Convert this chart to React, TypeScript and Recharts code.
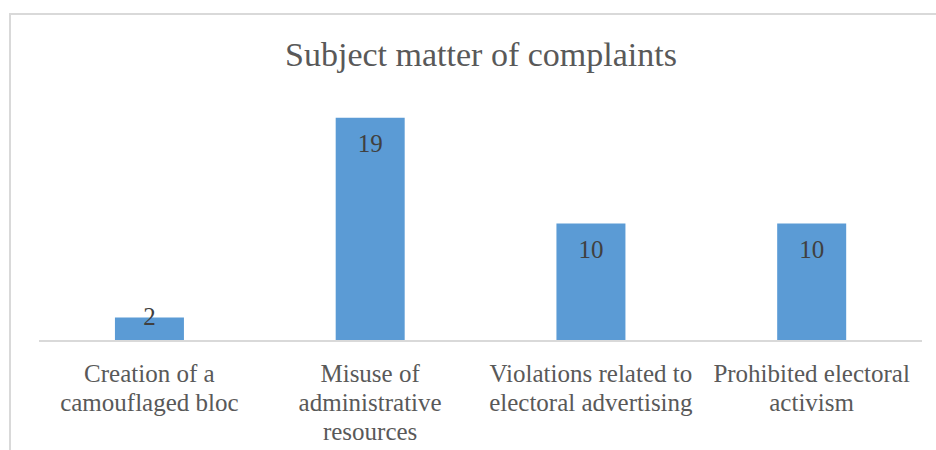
import { BarChart, Bar, XAxis, YAxis, LabelList } from 'recharts';

const categories = [
  'Creation of a camouflaged bloc',
  'Misuse of administrative resources',
  'Violations related to electoral advertising',
  'Prohibited electoral activism',
];
// how each category name wraps under the axis
const categoryLines = [
  ['Creation of a', 'camouflaged bloc'],
  ['Misuse of', 'administrative', 'resources'],
  ['Violations related to', 'electoral advertising'],
  ['Prohibited electoral', 'activism'],
];
const complaints = [2, 19, 10, 10];

const chartData = categories.map((name, i) => ({ name, value: complaints[i] }));

const FONT = "'Liberation Serif', serif";

function CategoryTick(props: any) {
  const { x, y, index } = props;
  const lines = categoryLines[index] ?? [];
  return (
    <text x={x} y={y} textAnchor="middle" fill="#595959" fontSize={25} fontFamily={FONT}>
      {lines.map((line, i) => (
        <tspan key={i} x={x} dy={i === 0 ? 33 : 29}>
          {line}
        </tspan>
      ))}
    </text>
  );
}

function ValueLabel(props: any) {
  const { x, y, width, height, value } = props;
  // short bars get the label straddling the top, like Excel does
  const baseline = height < 40 ? y + 7 : y + 34;
  return (
    <text x={x + width / 2} y={baseline} textAnchor="middle" fill="#404040" fontSize={25} fontFamily={FONT}>
      {value}
    </text>
  );
}

export default function App() {
  return (
    <div style={{ position: 'absolute', left: 0, top: 0, width: 936, height: 450, overflow: 'hidden', background: '#fff' }}>
      <div
        style={{
          position: 'absolute',
          left: 9,
          top: 13,
          width: 960,
          height: 480,
          border: '2px solid #d9d9d9',
        }}
      />
      <svg width={936} height={100} style={{ position: 'absolute', left: 0, top: 0 }}>
        <text x={481} y={66} textAnchor="middle" fill="#595959" fontSize={34} fontFamily={FONT}>
          Subject matter of complaints
        </text>
      </svg>
      <BarChart
        width={936}
        height={450}
        data={chartData}
        margin={{ top: 106, right: 14, bottom: 9, left: 39 }}
        barCategoryGap="34.4%"
        style={{ position: 'absolute', left: 0, top: 0 }}
      >
        <XAxis
          dataKey="name"
          interval={0}
          tickLine={false}
          axisLine={{ stroke: '#d9d9d9', strokeWidth: 2 }}
          tick={<CategoryTick />}
          height={100}
        />
        <YAxis hide domain={[0, 20]} />
        <Bar dataKey="value" fill="#5b9bd5" isAnimationActive={false}>
          <LabelList dataKey="value" content={<ValueLabel />} />
        </Bar>
      </BarChart>
    </div>
  );
}
